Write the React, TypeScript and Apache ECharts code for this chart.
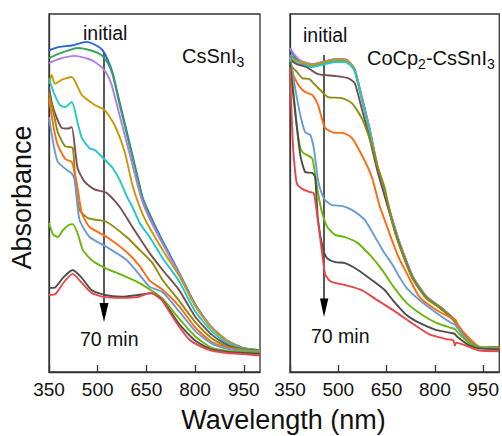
import React, { useEffect, useRef } from "react";
import * as echarts from "echarts";

// ---------- data: wavelength (nm) vs absorbance (a.u.) ----------
const xTicks = [350, 500, 650, 800, 950];

const seriesNames = ["0 min", "5 min", "10 min", "15 min", "20 min", "25 min", "30 min", "35 min", "40 min", "50 min", "60 min", "70 min"];
const seriesColors = ["#2962d9", "#3aa35c", "#b07ee8", "#c99a06", "#1fc8cf", "#7b4f4f", "#8f8c0a", "#ff6a13", "#6b9bd6", "#68b80a", "#4d4d4d", "#e8474a"];

// Left panel: CsSnI3
const L_blue = [[350,89.9],[383,90.8],[420,91.2],[466,92.2],[500,91.0],[515,89.9],[531,87.2],[546,83.5],[568,75.2],[600,63.2],[623,54.5],[638,48.9],[660,44.1],[700,36.6],[750,27.9],[800,19.0],[850,12.6],[900,8.7],[950,6.7],[1000,6.1]];
const L_green = [[350,87.7],[383,89.0],[438,90.5],[480,89.8],[512,88.5],[530,86.5],[546,83.0],[568,74.5],[600,62.5],[623,54.0],[638,48.5],[660,43.6],[700,36.3],[750,27.7],[800,18.8],[850,12.5],[900,8.6],[950,6.6],[1000,6.0]];
const L_purple = [[350,86.3],[383,87.5],[429,88.3],[470,87.5],[491,86.6],[515,84.9],[530,83.0],[543,80.2],[568,71.5],[600,60.3],[623,52.2],[638,47.5],[660,42.8],[700,35.8],[750,27.5],[800,18.7],[850,12.5],[900,8.6],[950,6.6],[1000,6.0]];
const L_gold = [[350,80.5],[358,83.0],[368,80.5],[389,81.6],[420,82.4],[451,77.4],[491,74.6],[521,73.2],[552,69.0],[583,61.5],[607,52.2],[630,46.0],[650,41.9],[700,34.1],[750,27.0],[800,18.5],[850,12.3],[900,8.5],[950,6.6],[1000,6.0]];
const L_cyan = [[350,82.0],[365,78.0],[383,74.6],[400,74.0],[420,75.4],[440,69.0],[451,65.4],[475,62.5],[491,62.0],[520,59.5],[546,57.0],[568,53.6],[590,49.0],[607,46.1],[630,41.5],[660,37.7],[700,31.8],[750,25.5],[800,17.0],[850,11.5],[900,8.0],[950,6.5],[1000,6.0]];
const L_brown = [[350,79.6],[362,74.0],[389,68.2],[410,68.0],[420,68.4],[438,57.0],[460,53.1],[490,51.0],[528,50.0],[568,46.1],[607,40.5],[660,33.2],[700,28.5],[750,23.0],[800,15.5],[850,10.5],[900,7.5],[950,6.3],[1000,6.0]];
const L_olive = [[350,77.9],[365,72.0],[377,67.0],[400,63.0],[423,62.6],[431,53.0],[444,45.3],[470,43.0],[528,41.9],[589,37.7],[629,34.1],[669,30.4],[700,25.7],[750,20.0],[800,14.0],[850,9.5],[900,7.0],[950,6.2],[1000,5.9]];
const L_orange = [[350,76.5],[365,68.0],[377,63.4],[400,59.5],[420,58.7],[435,53.1],[451,44.4],[475,40.5],[528,37.7],[589,33.5],[630,29.5],[660,25.5],[700,23.0],[750,18.5],[800,12.5],[850,8.5],[900,6.8],[950,6.0],[1000,5.8]];
const L_lightblue = [[350,71.2],[365,63.0],[377,58.7],[405,56.4],[420,55.5],[429,53.6],[444,42.5],[475,37.7],[528,34.9],[589,31.3],[630,27.0],[660,23.8],[700,22.3],[750,17.0],[800,11.5],[850,8.0],[900,6.5],[950,5.9],[1000,5.8]];
const L_yg = [[350,41.6],[362,38.5],[377,37.7],[392,39.5],[410,41.0],[423,41.3],[438,38.8],[454,34.1],[481,31.3],[522,29.1],[574,27.1],[623,25.1],[670,22.5],[700,20.5],[750,15.0],[800,10.0],[850,6.8],[900,5.9],[950,5.6],[1000,5.6]];
const L_gray = [[350,23.5],[370,23.7],[395,26.5],[423,28.5],[451,26.3],[481,22.9],[522,21.5],[574,21.0],[623,21.5],[666,22.0],[700,20.0],[750,13.5],[800,8.8],[850,6.3],[900,5.6],[950,5.3],[1000,5.1]];
const L_red = [[350,21.5],[370,21.8],[395,25.0],[423,27.4],[451,24.9],[481,22.1],[522,20.9],[574,20.7],[623,20.9],[650,21.8],[666,22.1],[685,21.0],[700,19.8],[743,13.7],[783,9.0],[820,7.0],[850,6.0],[900,5.3],[950,5.0],[1000,4.6]];

// Right panel: CoCp2-CsSnI3
const R_blue = [[350,90.0],[365,88.0],[383,86.8],[419,86.0],[450,86.6],[490,87.4],[521,87.3],[536,86.4],[551,84.5],[573,76.8],[598,67.6],[622,57.3],[650,48.2],[669,42.2],[690,36.2],[731,26.7],[773,21.1],[815,18.3],[851,15.5],[866,13.8],[897,9.9],[928,7.5],[947,6.8],[1000,7.0]];
const R_green = [[350,88.5],[365,87.5],[383,86.5],[419,85.6],[450,86.2],[490,87.0],[521,87.0],[536,86.1],[551,84.2],[573,76.3],[598,67.1],[622,56.8],[650,47.8],[669,41.8],[690,35.8],[731,26.4],[773,20.9],[815,18.1],[851,15.3],[866,13.6],[897,9.7],[928,7.4],[947,6.7],[1000,7.0]];
const R_purple = [[350,90.5],[365,88.5],[383,87.0],[419,86.0],[450,86.6],[490,87.4],[521,87.4],[536,86.5],[551,84.6],[573,76.9],[598,67.7],[622,57.4],[650,48.3],[669,42.3],[690,36.3],[731,26.8],[773,21.2],[815,18.3],[851,15.5],[866,13.8],[897,9.9],[928,7.5],[947,6.8],[1000,7.0]];
const R_gold = [[350,88.0],[365,87.0],[383,86.6],[419,85.8],[450,86.4],[490,87.2],[521,87.2],[536,86.3],[551,84.4],[573,76.5],[598,67.3],[622,57.0],[650,48.0],[669,42.0],[690,36.0],[731,26.5],[773,21.0],[815,18.2],[851,15.4],[860,14.6],[866,14.4],[872,12.8],[897,9.8],[928,7.5],[947,6.7],[1000,7.0]];
const R_cyan = [[350,87.5],[365,86.5],[383,86.0],[419,85.2],[450,85.8],[490,86.6],[521,86.6],[536,85.8],[551,84.0],[573,76.2],[598,67.0],[622,56.8],[650,47.8],[669,41.8],[690,35.8],[731,26.4],[773,20.9],[815,18.1],[851,15.3],[866,13.6],[897,9.7],[928,7.4],[947,6.7],[1000,7.0]];
const R_brown = [[350,87.2],[370,86.0],[400,85.2],[437,83.2],[490,82.7],[530,82.1],[551,80.7],[573,73.5],[598,65.0],[622,56.0],[650,47.3],[669,41.5],[690,35.5],[731,26.2],[773,20.8],[815,18.0],[851,15.2],[860,14.6],[866,13.8],[897,9.7],[928,7.4],[947,6.7],[1000,7.0]];
const R_olive = [[350,85.8],[370,84.0],[388,82.1],[410,81.8],[425,80.5],[450,78.2],[468,76.8],[511,76.5],[542,75.1],[573,70.9],[604,63.4],[622,57.5],[644,51.4],[669,41.2],[690,35.2],[731,26.0],[773,20.6],[815,17.9],[851,15.1],[866,13.6],[897,9.6],[928,7.4],[947,6.7],[1000,7.0]];
const R_orange = [[350,84.9],[376,80.2],[397,78.2],[419,77.4],[437,74.6],[459,68.2],[490,66.8],[514,66.8],[542,65.4],[573,60.6],[604,54.5],[628,46.5],[650,41.0],[670,36.0],[690,31.5],[712,27.7],[752,21.0],[805,17.3],[851,15.1],[862,14.8],[870,13.1],[906,9.5],[937,7.0],[977,6.7],[1000,6.8]];
const R_lightblue = [[350,88.0],[358,84.0],[366,79.3],[382,71.8],[397,67.0],[413,66.2],[425,62.0],[437,53.6],[448,50.0],[459,48.0],[481,46.6],[511,46.4],[542,45.3],[582,42.5],[622,36.5],[645,33.0],[668,30.0],[690,26.5],[712,23.5],[752,20.1],[805,16.5],[851,13.7],[862,13.3],[870,12.3],[906,8.4],[937,7.0],[1000,6.5]];
const R_yg = [[350,87.0],[355,84.0],[361,78.2],[372,68.2],[382,62.6],[391,61.2],[413,60.1],[420,59.5],[425,57.0],[437,50.0],[450,44.4],[466,40.5],[490,38.3],[521,37.7],[561,36.0],[604,32.1],[628,29.5],[644,27.5],[670,24.0],[712,19.3],[752,16.5],[805,13.7],[851,12.3],[862,12.0],[870,11.2],[906,8.1],[937,7.0],[1000,6.4]];
const R_gray = [[350,86.5],[357,80.0],[366,72.6],[382,60.6],[397,55.9],[419,55.6],[428,54.5],[437,42.5],[453,34.1],[465,31.8],[490,30.7],[521,30.4],[561,28.5],[604,25.7],[644,22.9],[670,20.0],[712,15.9],[752,13.7],[805,11.7],[851,10.9],[862,10.6],[870,9.8],[906,7.5],[937,6.6],[1000,6.3]];
const R_red = [[350,85.0],[355,72.0],[360,62.0],[366,56.0],[372,52.5],[391,51.0],[410,50.3],[424,49.9],[437,42.0],[450,33.0],[459,27.4],[470,25.8],[481,25.1],[521,24.3],[573,22.9],[622,20.0],[675,17.0],[731,13.5],[783,10.5],[836,9.2],[858,8.8],[862,7.4],[866,8.2],[907,7.0],[938,6.0],[1000,5.8]];

const leftData = [L_blue, L_green, L_purple, L_gold, L_cyan, L_brown, L_olive, L_orange, L_lightblue, L_yg, L_gray, L_red];
const rightData = [R_blue, R_green, R_purple, R_gold, R_cyan, R_brown, R_olive, R_orange, R_lightblue, R_yg, R_gray, R_red];

const FONT = "'Liberation Sans', Arial, Helvetica, sans-serif";
const FRAME = "#333333";

export default function App() {
  const ref = useRef<HTMLDivElement>(null);

  useEffect(() => {
    document.body.style.margin = "0";
    if (!ref.current) return;
    const chart = echarts.init(ref.current, null, { renderer: "svg" });

    const mkSeries = (data: number[][][], gridIdx: number) =>
      data.map((d, i) => ({
        name: seriesNames[i] + (gridIdx ? " b" : " a"),
        type: "line",
        xAxisIndex: gridIdx,
        yAxisIndex: gridIdx,
        data: d,
        showSymbol: false,
        smooth: 0.2,
        lineStyle: { color: seriesColors[i], width: 1.9 },
        itemStyle: { color: seriesColors[i] },
        silent: true,
      }));

    const xAxisCfg = (i: number) => ({
      type: "value",
      gridIndex: i,
      min: 350,
      max: 1000,
      axisLine: { show: true, onZero: false, lineStyle: { color: FRAME, width: 1.3 } },
      axisTick: { show: true, inside: true, length: 7, customValues: xTicks, lineStyle: { color: FRAME, width: 1.3 } },
      axisLabel: { customValues: xTicks, fontSize: 19, color: "#111", margin: 8, fontFamily: FONT },
      splitLine: { show: false },
    });
    const yAxisCfg = (i: number) => ({
      type: "value",
      gridIndex: i,
      min: 0,
      max: 100,
      axisLine: { show: true, lineStyle: { color: FRAME, width: 1.3 } },
      axisTick: { show: false },
      axisLabel: { show: false },
      splitLine: { show: false },
    });

    const txt = (x: number, y: number, text: string, size = 19.5, extra: any = {}) => ({
      type: "text",
      x,
      y,
      silent: true,
      style: {
        text,
        fill: "#111",
        fontSize: size,
        fontFamily: FONT,
        verticalAlign: "middle",
        align: "left",
        ...extra,
      },
    });

    const option: any = {
      animation: false,
      grid: [
        { left: 49, top: 14, width: 211, height: 358, show: true, borderColor: FRAME, borderWidth: 1.3, backgroundColor: "transparent" },
        { left: 290, top: 14, width: 210, height: 358, show: true, borderColor: FRAME, borderWidth: 1.3, backgroundColor: "transparent" },
      ],
      xAxis: [xAxisCfg(0), xAxisCfg(1)],
      yAxis: [yAxisCfg(0), yAxisCfg(1)],
      series: [...mkSeries(leftData, 0), ...mkSeries(rightData, 1)],
      graphic: [
        // left panel annotations
        txt(83, 33, "initial"),
        txt(80, 339, "70 min"),
        txt(182, 56, "CsSnI", 20),
        txt(236.5, 62, "3", 14),
        { type: "line", silent: true, shape: { x1: 104, y1: 52, x2: 104, y2: 306 }, style: { stroke: "#000", lineWidth: 1.3 } },
        { type: "polygon", silent: true, shape: { points: [[99.5, 303], [108.5, 303], [104, 322]] }, style: { fill: "#000" } },
        // right panel annotations
        txt(303, 35, "initial"),
        txt(311, 336, "70 min"),
        txt(367, 58, "CoCp", 20),
        txt(418.1, 64, "2", 14),
        txt(425.9, 58, "-CsSnI", 20),
        txt(487, 64, "3", 14),
        { type: "line", silent: true, shape: { x1: 324, y1: 55, x2: 324, y2: 301 }, style: { stroke: "#000", lineWidth: 1.3 } },
        { type: "polygon", silent: true, shape: { points: [[320, 298.5], [328.3, 298.5], [324, 317]] }, style: { fill: "#000" } },
        // axis titles
        txt(283.5, 420, "Wavelength (nm)", 27, { align: "center" }),
        { type: "text", x: 22, y: 197.5, rotation: Math.PI / 2, silent: true, style: { text: "Absorbance", fill: "#111", fontSize: 27, fontFamily: FONT, align: "center", verticalAlign: "middle" } },
      ],
    };

    chart.setOption(option);
    return () => chart.dispose();
  }, []);

  return <div ref={ref} style={{ width: 502, height: 436, background: "#fff" }} />;
}
